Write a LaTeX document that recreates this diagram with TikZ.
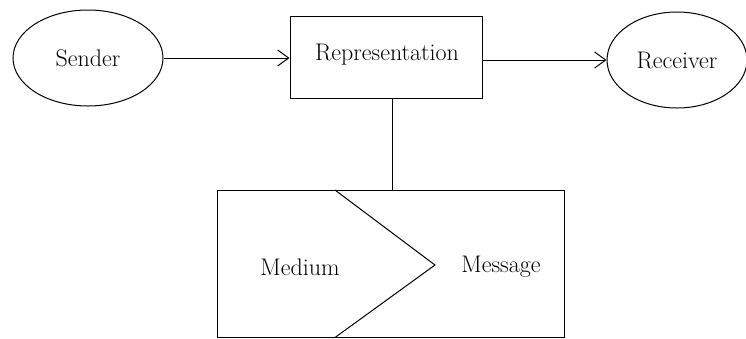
\documentclass[tikz,border=0pt]{standalone}
\usetikzlibrary{shapes.geometric,arrows.meta}
\begin{document}
\begin{tikzpicture}[x=1pt,y=-1pt,
  every node/.style={font=\fontsize{24}{28}\selectfont},
  oval/.style={draw,ellipse,line width=1pt,inner sep=0pt,minimum width=150pt,minimum height=96pt},
  repbox/.style={draw,rectangle,line width=1pt,inner sep=0pt,minimum width=192pt,minimum height=82pt},
  conn/.style={line width=1pt},
  arr/.style={conn,-{Straight Barb[length=11pt,width=16pt,line width=1pt]}}]
\useasboundingbox (0,0) rectangle (746,338);
\node[oval] (sender) at (88,58) {Sender};
\node[repbox] (rep) at (386,57) {};
\node (reptext) at (387,55) {Representation};
\node[oval,minimum width=140pt] (receiver) at (677,60) {Receiver};
\draw[arr] (sender.east) -- (rep.west |- sender.east);
\draw[arr] (rep.east |- receiver.west) -- (receiver.west);
% bottom box
\coordinate (btl) at (217,190);
\coordinate (bbr) at (564,337.5);
\draw[line width=1pt] (btl) rectangle (bbr);
\coordinate (ctop) at (335,190);
\coordinate (ctip) at (435,265);
\coordinate (cbot) at (335,337.5);
\draw[conn] (ctop) -- (ctip) -- (cbot);
\coordinate (btop) at (392,190);
\draw[conn] (rep.south -| btop) -- (btop);
\node (medium) at (300,267) {Medium};
\node (message) at (501,267) {Message};
\end{tikzpicture}
\end{document}
